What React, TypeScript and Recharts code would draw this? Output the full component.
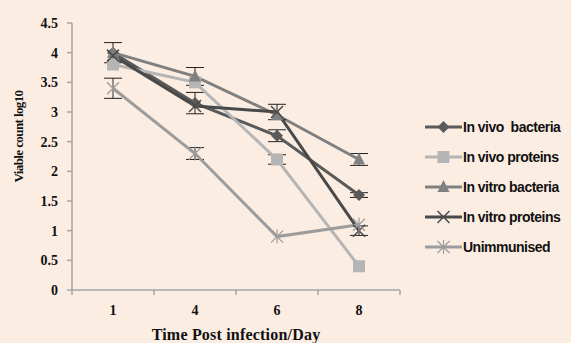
import { LineChart, Line, XAxis, YAxis, ErrorBar } from "recharts";

const days = ["1", "4", "6", "8"];
const inVivoBacteria = [4.0, 3.15, 2.6, 1.6];
const inVivoProteins = [3.8, 3.5, 2.2, 0.4];
const inVitroBacteria = [4.0, 3.6, 2.95, 2.2];
const inVitroProteins = [3.95, 3.1, 3.0, 1.0];
const unimmunised = [3.4, 2.3, 0.9, 1.1];

const inVivoBacteriaErr = [0, 0.18, 0.1, 0.04];
const inVivoProteinsErr = [0, 0, 0.08, 0];
const inVitroBacteriaErr = [0.17, 0.15, 0, 0.1];
const inVitroProteinsErr = [0, 0, 0.13, 0.08];
const unimmunisedErr = [0.17, 0.1, 0, 0];

const yTicks = [0, 0.5, 1, 1.5, 2, 2.5, 3, 3.5, 4, 4.5];

const data = days.map((day, i) => ({
  day,
  ivb: inVivoBacteria[i],
  ivbErr: inVivoBacteriaErr[i],
  ivp: inVivoProteins[i],
  ivpErr: inVivoProteinsErr[i],
  itb: inVitroBacteria[i],
  itbErr: inVitroBacteriaErr[i],
  itp: inVitroProteins[i],
  itpErr: inVitroProteinsErr[i],
  un: unimmunised[i],
  unErr: unimmunisedErr[i],
}));

const series = [
  { key: "ivb", name: "In vivo  bacteria", color: "#5a5a5a", shape: "diamond" },
  { key: "ivp", name: "In vivo proteins", color: "#b5b5b5", shape: "square" },
  { key: "itb", name: "In vitro bacteria", color: "#808080", shape: "triangle" },
  { key: "itp", name: "In vitro proteins", color: "#494949", shape: "x" },
  { key: "un", name: "Unimmunised", color: "#9c9c9c", shape: "star" },
];

const serif = "'Liberation Serif', 'Times New Roman', serif";
const sans = "'Liberation Sans', Arial, sans-serif";

function Marker({ cx, cy, shape, color }: any) {
  if (cx == null || cy == null) return null;
  if (shape === "diamond") {
    return <polygon points={`${cx},${cy - 6} ${cx + 6},${cy} ${cx},${cy + 6} ${cx - 6},${cy}`} fill={color} />;
  }
  if (shape === "square") {
    return <rect x={cx - 6} y={cy - 6} width={12} height={12} fill={color} />;
  }
  if (shape === "triangle") {
    return <polygon points={`${cx},${cy - 7} ${cx + 6},${cy + 5} ${cx - 6},${cy + 5}`} fill={color} />;
  }
  if (shape === "x") {
    return (
      <g stroke={color} strokeWidth={1.5}>
        <line x1={cx - 6} y1={cy - 6} x2={cx + 6} y2={cy + 6} />
        <line x1={cx - 6} y1={cy + 6} x2={cx + 6} y2={cy - 6} />
      </g>
    );
  }
  return (
    <g stroke={color} strokeWidth={1.2}>
      <line x1={cx - 6} y1={cy - 6} x2={cx + 6} y2={cy + 6} />
      <line x1={cx - 6} y1={cy + 6} x2={cx + 6} y2={cy - 6} />
      <line x1={cx} y1={cy - 7} x2={cx} y2={cy + 7} />
    </g>
  );
}

const XTick = ({ x, y, payload, index }: any) => {
  const half = 41;
  return (
    <g>
      <line x1={x - half} x2={x - half} y1={y} y2={y + 5} stroke="#a5a5a5" strokeWidth={1.5} />
      {index === days.length - 1 && (
        <line x1={x + half} x2={x + half} y1={y} y2={y + 5} stroke="#a5a5a5" strokeWidth={1.5} />
      )}
      <text x={x} y={y + 25} textAnchor="middle" fontFamily={serif} fontWeight="bold" fontSize={14} fill="#111">
        {payload.value}
      </text>
    </g>
  );
};

const YLabel = ({ viewBox }: any) => {
  const cy = viewBox.y + viewBox.height / 2 - 20;
  return (
    <text
      x={23}
      y={cy}
      transform={`rotate(-90 23 ${cy})`}
      textAnchor="middle"
      fontFamily={serif}
      fontWeight="bold"
      fontSize={13}
      letterSpacing={-0.6}
      fill="#111"
    >
      Viable count log10
    </text>
  );
};

const ChartLegend = () => (
  <div
    style={{
      position: "absolute",
      left: 425,
      top: 112,
      fontFamily: sans,
      fontWeight: "bold",
      fontSize: 14,
      letterSpacing: -0.5,
      color: "#111",
      whiteSpace: "pre",
    }}
  >
    {series.map((s) => (
      <div key={s.key} style={{ display: "flex", alignItems: "center", height: 30 }}>
        <svg width={37} height={16} style={{ marginRight: 1 }}>
          <line x1={0} x2={37} y1={8} y2={8} stroke={s.color} strokeWidth={3} />
          <Marker cx={18.5} cy={8} shape={s.shape} color={s.color} />
        </svg>
        <span>{s.name}</span>
      </div>
    ))}
  </div>
);

export default function App() {
  return (
    <div style={{ position: "absolute", left: 0, top: 0, width: 571, height: 343, background: "#fcede3" }}>
      <LineChart width={571} height={343} data={data} margin={{ top: 23, right: 171, bottom: 0, left: 0 }}>
        <XAxis
          dataKey="day"
          scale="band"
          height={53}
          stroke="#a5a5a5"
          strokeWidth={1.5}
          tickLine={false}
          tickSize={0}
          tickMargin={0}
          tick={<XTick />}
          label={{
            value: "Time Post infection/Day",
            position: "insideBottom",
            offset: 3,
            style: { fontFamily: serif, fontWeight: "bold", fontSize: 16, letterSpacing: 0.2, fill: "#111" },
          }}
        />
        <YAxis
          width={72}
          domain={[0, 4.5]}
          ticks={yTicks}
          interval={0}
          stroke="#a5a5a5"
          strokeWidth={1.5}
          tickSize={5}
          tickMargin={9}
          tick={{ fontFamily: serif, fontWeight: "bold", fontSize: 14, fill: "#111" }}
          label={<YLabel />}
        />
        {series.map((s) => (
          <Line
            key={s.key}
            dataKey={s.key}
            name={s.name}
            stroke={s.color}
            strokeWidth={3}
            isAnimationActive={false}
            dot={(p: any) => <Marker key={`${s.key}-${p.index}`} cx={p.cx} cy={p.cy} shape={s.shape} color={s.color} />}
            activeDot={false}
          >
            <ErrorBar dataKey={`${s.key}Err`} width={9} stroke="#222" strokeWidth={1} direction="y" />
          </Line>
        ))}
      </LineChart>
      <ChartLegend />
    </div>
  );
}
